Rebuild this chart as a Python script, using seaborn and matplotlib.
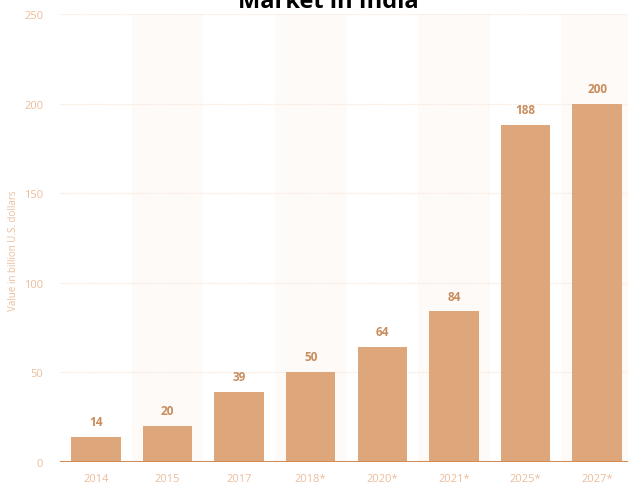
import matplotlib
matplotlib.use("Agg")
import matplotlib.pyplot as plt
import seaborn as sns
import pandas as pd

categories = ["2014", "2015", "2017", "2018*", "2020*", "2021*", "2025*", "2027*"]
values = [14, 20, 39, 50, 64, 84, 188, 200]
yticks = [0, 50, 100, 150, 200, 250]

sns.set_theme(style="white")
plt.rcParams['font.family'] = ['Open Sans', 'DejaVu Sans']

df = pd.DataFrame({"year": categories, "value": values})

fig = plt.figure(figsize=(6.28, 4.85), dpi=100)
ax = fig.add_axes([60/628, 22/485, 568/628, 448/485])

bar_color = "#dda67b"
tick_color = "#ebbd9c"
label_color = "#c98c5c"

# alternating background bands
for i in range(len(categories)):
    if i % 2 == 1:
        ax.axvspan(i - 0.5, i + 0.5, color="#fdfaf8", zorder=0, lw=0)

for yv in yticks[1:]:
    ax.axhline(yv, color="#f6e6da", lw=0.9, ls=(0, (1, 1)), zorder=1)

sns.barplot(data=df, x="year", y="value", color=bar_color, width=0.69,
            saturation=1, ax=ax, zorder=2, edgecolor="none")

for i, v in enumerate(values):
    ax.text(i, v + 5, f"{v}", ha="center", va="bottom", fontsize=8.5,
            fontweight="bold", color=label_color)

ax.axhline(0, color="#d38c55", lw=1.5, zorder=3)

ax.set_xlim(-0.5, 7.43)
ax.set_ylim(0, 250)
ax.set_yticks(yticks)
ax.tick_params(axis="both", length=0, labelsize=8, labelcolor=tick_color)
ax.tick_params(axis="y", pad=12)
ax.tick_params(axis="x", pad=8)
ax.set_xlabel("")
ax.set_ylabel("Value in billion U.S. dollars", fontsize=7, color=tick_color)
ax.yaxis.set_label_coords(-0.072, 0.475)
for s in ax.spines.values():
    s.set_visible(False)

fig.text(0.522, 1 - 8/485, "Market in India", ha="center", va="baseline",
         fontsize=17, fontweight="bold", color="black")

fig.savefig("out.png", dpi=100)
